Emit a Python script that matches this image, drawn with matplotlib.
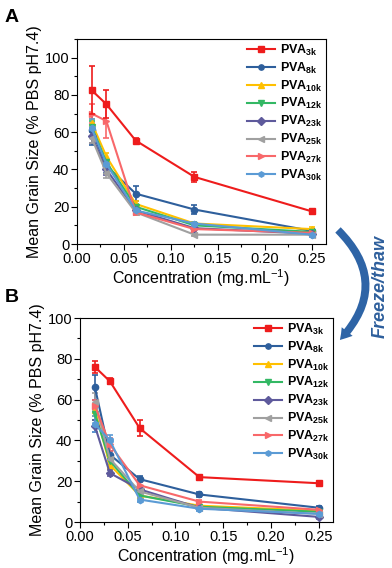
import matplotlib
matplotlib.use("Agg")
import matplotlib.pyplot as plt
from matplotlib.patches import FancyArrowPatch
from matplotlib.ticker import MultipleLocator
import numpy as np

plt.rcParams['font.family'] = ['Liberation Sans', 'DejaVu Sans']
plt.rcParams['mathtext.fontset'] = 'custom'
plt.rcParams['mathtext.rm'] = 'Liberation Sans'
plt.rcParams['mathtext.bf'] = 'Liberation Sans:bold'
plt.rcParams['mathtext.it'] = 'Liberation Sans:italic'

conc = [0.015625, 0.03125, 0.0625, 0.125, 0.25]
names = ['3k', '8k', '10k', '12k', '23k', '25k', '27k', '30k']
colors = ['#ee1c1c', '#2e5f9c', '#ffc000', '#33b864', '#5e5a9c', '#a0a0a0', '#f8686a', '#5b9bd5']
markers = ['s', 'o', '^', 'v', 'D', '<', '>', 'h']

# Panel A (before freeze/thaw)
a_pva3k = [82.5, 75, 55.5, 36, 17.5]
a_pva8k = [61, 42, 27, 18.5, 7]
a_pva10k = [65, 47, 21.5, 11, 8]
a_pva12k = [63, 44, 20, 10, 6.5]
a_pva23k = [58, 40, 18, 8.5, 5.5]
a_pva25k = [57, 38, 17, 5, 5]
a_pva27k = [70, 66, 17, 8, 6]
a_pva30k = [62, 43, 18, 11, 5]
a_err3k = [13, 7.5, 1.5, 2.5, 1.2]
a_err8k = [8, 4, 4, 2.2, 1]
a_err10k = [2, 2, 1.5, 1, 1]
a_err12k = [3, 2, 1.5, 1, 1]
a_err23k = [4, 3, 1.5, 1, 1]
a_err25k = [3, 2.5, 1.5, 0.8, 0.8]
a_err27k = [5, 9, 1.5, 1, 1]
a_err30k = [5, 3, 1.5, 1, 1]

# Panel B (after freeze/thaw)
b_pva3k = [76, 69, 46, 22, 19]
b_pva8k = [66, 33, 21, 13.5, 7]
b_pva10k = [55, 28, 13, 8, 5.5]
b_pva12k = [53, 30, 13, 7.5, 5]
b_pva23k = [47, 24, 16, 7, 2.5]
b_pva25k = [59, 31, 15, 7, 4]
b_pva27k = [57, 38, 18, 10, 6]
b_pva30k = [48, 40, 11, 6.5, 4]
b_err3k = [3, 1.5, 4, 1, 0.8]
b_err8k = [6, 2, 1.5, 1, 1]
b_err10k = [3, 2, 1, 1, 1]
b_err12k = [3, 2, 1, 1, 1]
b_err23k = [3, 1.5, 1, 1, 1]
b_err25k = [4, 2, 1, 1, 1]
b_err27k = [3, 3, 1.5, 1, 1]
b_err30k = [4, 2.5, 1, 1, 1]

A_vals = [a_pva3k, a_pva8k, a_pva10k, a_pva12k, a_pva23k, a_pva25k, a_pva27k, a_pva30k]
A_errs = [a_err3k, a_err8k, a_err10k, a_err12k, a_err23k, a_err25k, a_err27k, a_err30k]
B_vals = [b_pva3k, b_pva8k, b_pva10k, b_pva12k, b_pva23k, b_pva25k, b_pva27k, b_pva30k]
B_errs = [b_err3k, b_err8k, b_err10k, b_err12k, b_err23k, b_err25k, b_err27k, b_err30k]

W, H = 392, 568
fig = plt.figure(figsize=(W/100, H/100), dpi=100)

def px_axes(l, t, r, b):
    return fig.add_axes([l/W, 1-b/H, (r-l)/W, (b-t)/H])

axA = px_axes(77, 39, 326, 244)
axB = px_axes(80, 318, 333, 522)

def draw(ax, vals, errs, ymax):
    order = list(range(1, len(vals))) + [0]
    for i in order:
        ax.errorbar(conc, vals[i], yerr=errs[i], color=colors[i], marker=markers[i],
                    markersize=4.5, lw=1.5, capsize=2.5, elinewidth=1.2, capthick=1.2,
                    label=r'$\mathbf{PVA}_{\mathbf{' + names[i] + r'}}$', zorder=3 if i else 4)
    ax.set_xlim(0, 0.265)
    ax.set_ylim(0, ymax)
    ax.xaxis.set_major_locator(MultipleLocator(0.05))
    ax.xaxis.set_minor_locator(MultipleLocator(0.025))
    ax.yaxis.set_major_locator(MultipleLocator(20))
    ax.yaxis.set_minor_locator(MultipleLocator(10))
    ax.set_xticks([0, 0.05, 0.10, 0.15, 0.20, 0.25])
    ax.set_xticklabels(['0.00', '0.05', '0.10', '0.15', '0.20', '0.25'])
    ax.tick_params(axis='both', which='major', direction='out', length=4, width=0.8, labelsize=10.5, pad=1.5)
    ax.tick_params(axis='both', which='minor', direction='out', length=2.5, width=0.8)
    for s in ax.spines.values():
        s.set_linewidth(0.8)
    ax.set_xlabel(r'Concentration (mg.mL$^{-1}$)', fontsize=11.5, labelpad=1)
    ax.set_ylabel('Mean Grain Size (% PBS pH7.4)', fontsize=11.5, labelpad=2)
    handles, labels = ax.get_legend_handles_labels()
    idx = [labels.index(r'$\mathbf{PVA}_{\mathbf{' + n + r'}}$') for n in names]
    hs = [handles[j][0] for j in idx]
    ls = [labels[j] for j in idx]
    ax.legend(hs, ls, loc='upper right', frameon=False, fontsize=9, handlelength=2.3,
              handletextpad=0.35, labelspacing=0.22, borderaxespad=0.1, borderpad=0.2,
              markerscale=0.85)

draw(axA, A_vals, A_errs, 110)
draw(axB, B_vals, B_errs, 100)

fig.text(5/W, 1-22/H, 'A', fontsize=14, fontweight='bold')
fig.text(5/W, 1-302/H, 'B', fontsize=14, fontweight='bold')

arrow = FancyArrowPatch((336/W, 1-228/H), (338/W, 1-342/H), transform=fig.transFigure,
                        connectionstyle='arc3,rad=-0.5',
                        arrowstyle='simple,head_width=10,head_length=8,tail_width=5.5',
                        color='#2e64a6', lw=0)
fig.patches.append(arrow)
fig.text(380/W, 1-286/H, 'Freeze/thaw', rotation=90, ha='center', va='center',
         fontsize=13, fontweight='bold', fontstyle='italic', color='#2e5f9c')

fig.savefig('out.png', dpi=100)
